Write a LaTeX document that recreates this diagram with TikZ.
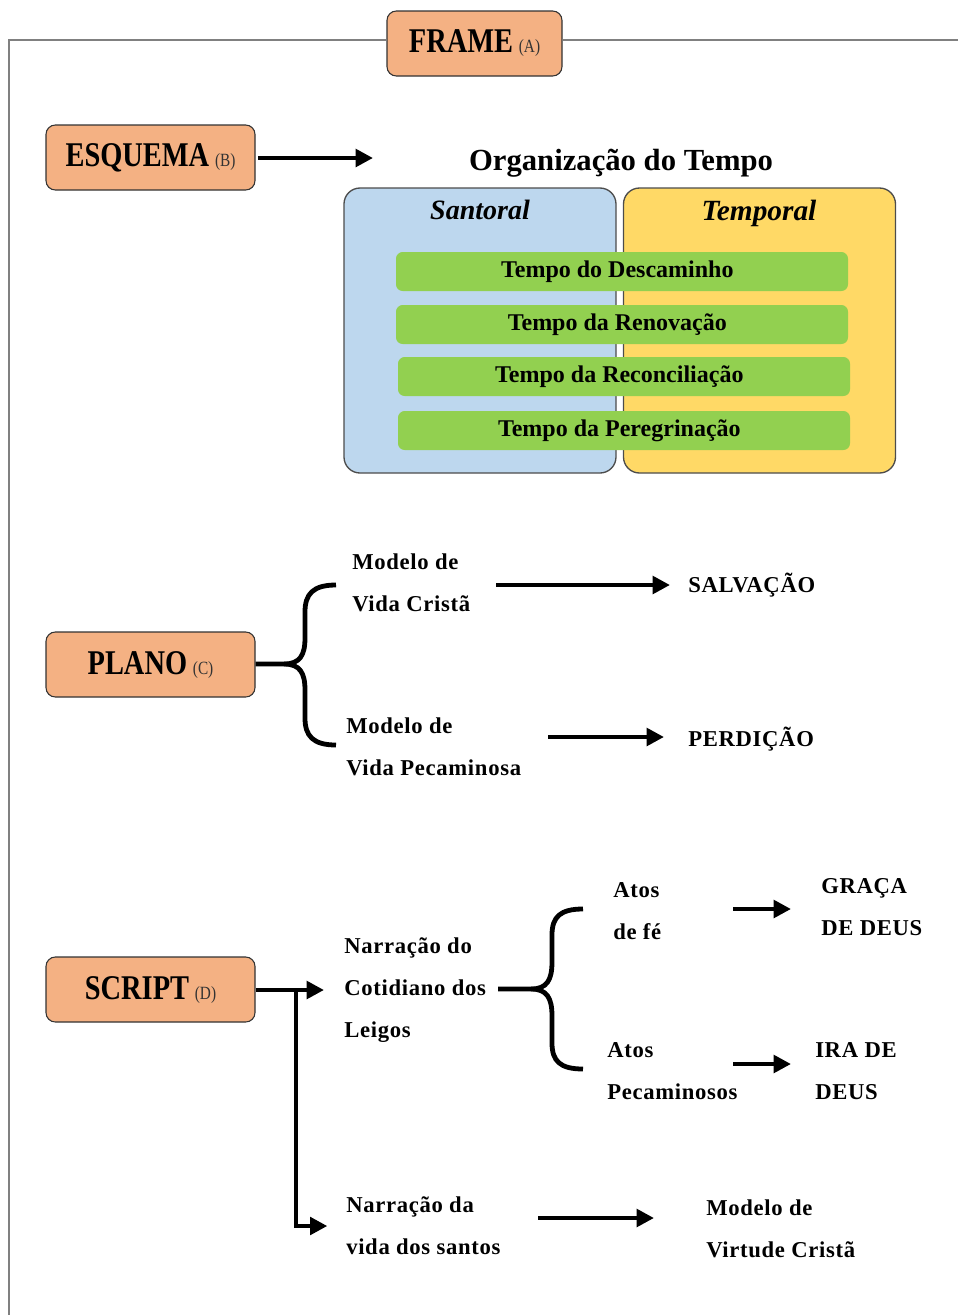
\documentclass[tikz,border=0pt]{standalone}
\usepackage{fontspec}
\setmainfont{Liberation Serif}
\newfontfamily\ttlfont[FakeStretch=0.82]{Liberation Serif}
\newfontfamily\labfont[LetterSpace=3]{Liberation Serif}
\usetikzlibrary{arrows.meta}
\definecolor{peach}{HTML}{F4B183}
\definecolor{sblue}{HTML}{BDD7EE}
\definecolor{tyel}{HTML}{FFD966}
\definecolor{tgreen}{HTML}{92D050}
\definecolor{fgray}{HTML}{808080}
\tikzset{
  titlebox/.style={rectangle, rounded corners=7pt, fill=peach, draw=black!80, line width=0.8pt,
    minimum width=156.75pt, minimum height=48.75pt, inner sep=0pt,
    font=\ttlfont\bfseries\fontsize{26}{30}\selectfont},
  colbox/.style={rectangle, rounded corners=12pt, draw=black!70, line width=1pt,
    minimum width=204pt, minimum height=213.75pt},
  bar/.style={rectangle, rounded corners=5pt, fill=tgreen, minimum width=339pt,
    minimum height=29.25pt, inner sep=0pt, font=\bfseries\fontsize{18}{20}\selectfont},
  lab/.style={anchor=west, align=left, inner sep=0pt,
    font=\labfont\bfseries\fontsize{17}{31.5}\selectfont},
  bigarrow/.style={line width=3.6pt, -{Triangle[length=13pt,width=13pt]}},
  brace/.style={line width=3.6pt, line join=round},
}
\newcommand{\tag}[1]{\,{\fontsize{14}{15}\selectfont\mdseries\color{black!80}(#1)}}
\begin{document}
\begin{tikzpicture}[x=0.75pt,y=-0.75pt]
\useasboundingbox (0,0) rectangle (958,1315);
% frame
\node[titlebox, minimum width=131.25pt] (frame) at (474.5,43.5) {FRAME\tag{A}};
\coordinate (fl) at (8,40);
\coordinate (fr) at (958,40);
\coordinate (fb) at (9,1315);
\draw[fgray, line width=1.5pt] (fl) -- (frame.west |- fl);
\draw[fgray, line width=1.5pt] (frame.east |- fr) -- (fr);
\draw[fgray, line width=0.8pt] (9,40) -- (fb);
% esquema
\node[titlebox] (esq) at (150.5,157.5) {ESQUEMA\tag{B}};
\coordinate (esqend) at (373,158);
\draw[bigarrow] ([xshift=2pt]esq.east |- esqend) -- (esqend);
\node[font=\bfseries\fontsize{23}{26}\selectfont] (org) at (621,163) {Organização do Tempo};
\node[colbox, fill=sblue] (sant) at (480,330.5) {};
\node[colbox, fill=tyel] (temp) at (759.5,330.5) {};
\node[font=\bfseries\itshape\fontsize{21}{24}\selectfont] (santl) at (480,210) {Santoral};
\node[font=\bfseries\itshape\fontsize{22}{24}\selectfont] (templ) at (759,213) {Temporal};
\node[bar] (b1) at (622,271.5) {\hspace*{-7pt}Tempo do Descaminho};
\node[bar] (b2) at (622,324.5) {\hspace*{-7pt}Tempo da Renovação};
\node[bar] (b3) at (624,376.5) {\hspace*{-7pt}Tempo da Reconciliação};
\node[bar] (b4) at (624,430.5) {\hspace*{-7pt}Tempo da Peregrinação};
% plano
\node[titlebox] (plano) at (150.5,664.5) {PLANO\tag{C}};
\coordinate (pc) at (284,664);
\draw[brace] (plano.east |- pc) -- (pc) .. controls (300,664) and (305,655) .. (305,638) -- (305,612) .. controls (305,594) and (313,585) .. (336,585);
\draw[brace] (pc) .. controls (300,664) and (305,673) .. (305,690) -- (305,718) .. controls (305,736) and (313,745) .. (336,745);
\node[lab] (m1) at (352,583) {Modelo de\\Vida Cristã};
\node[lab] (salv) at (688,585) {SALVAÇÃO};
\coordinate (a1s) at (496,585);
\draw[bigarrow] (a1s) -- ([xshift=-13.5pt]salv.west);
\node[lab] (m2) at (346,747) {Modelo de\\Vida Pecaminosa};
\node[lab] (perd) at (688,739) {PERDIÇÃO};
\coordinate (a2s) at (548,737);
\draw[bigarrow] (a2s) -- ([xshift=-18pt]perd.west |- a2s);
% script
\node[titlebox] (script) at (150.5,989.5) {SCRIPT\tag{D}};
\node[lab] (n1) at (344,990) {Narração do\\Cotidiano dos\\Leigos};
\coordinate (sj) at (296,990);
\draw[bigarrow] (script.east |- sj) -- ([xshift=-15pt]n1.west |- sj);
\node[lab] (n2) at (346,1226) {Narração da\\vida dos santos};
\draw[bigarrow, line join=miter] (sj) -- (296,1226) -- ([xshift=-14pt]n2.west |- 0,1226);
\coordinate (sc) at (531,989);
\draw[brace] (n1.east |- sc) ++(12,0) -- (sc) .. controls (547,989) and (552,980) .. (552,962) -- (552,935) .. controls (552,917) and (560,909) .. (583,909);
\draw[brace] (sc) .. controls (547,989) and (552,998) .. (552,1016) -- (552,1043) .. controls (552,1061) and (560,1069) .. (583,1069);
\node[lab] (at1) at (613,911) {Atos\\de fé};
\node[lab] (gr) at (821,907) {GRAÇA\\DE DEUS};
\coordinate (g1) at (733,909);
\draw[bigarrow] (g1) -- (791,909) coordinate (g1e);
\node[lab] (at2) at (607,1071) {Atos\\Pecaminosos};
\node[lab] (ira) at (815,1071) {IRA DE\\DEUS};
\coordinate (g2) at (733,1064);
\draw[bigarrow] (g2) -- (791,1064) coordinate (g2e);
\node[lab] (mv) at (706,1229) {Modelo de\\Virtude Cristã};
\coordinate (g3) at (538,1218);
\draw[bigarrow] (g3) -- (654,1218) coordinate (g3e);
\end{tikzpicture}
\end{document}
